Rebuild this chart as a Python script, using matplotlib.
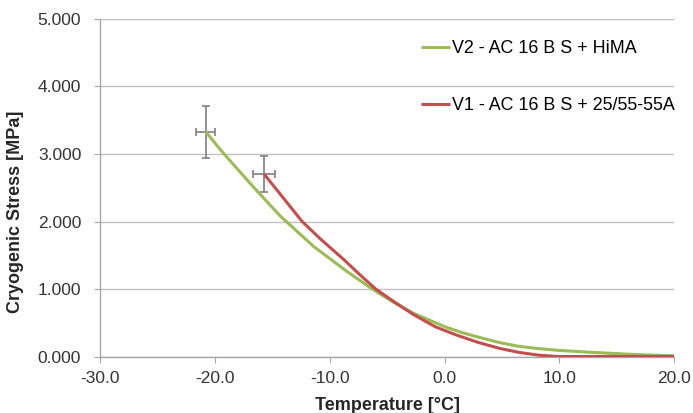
import matplotlib
matplotlib.use("Agg")
import matplotlib.pyplot as plt
from matplotlib.ticker import FormatStrFormatter

plt.rcParams['font.family'] = ['Liberation Sans', 'DejaVu Sans']

# values
green_x = [-20.8, -19.4, -16.8, -14.3, -11.4, -8.5, -6.3, -4.5, -2.7, -1.2,
           0.2, 1.6, 3.1, 4.7, 6.3, 8.0, 10.0, 13.0, 16.5, 20.0]
green_y = [3.33, 3.04, 2.54, 2.08, 1.63, 1.26, 1.00, 0.81, 0.64, 0.53,
           0.43, 0.35, 0.28, 0.21, 0.155, 0.12, 0.09, 0.06, 0.03, 0.01]

red_x = [-15.7, -14.0, -12.4, -10.8, -8.8, -7.3, -6.0, -4.3, -2.7, -0.8,
         1.0, 2.9, 4.8, 6.5, 8.2, 9.8, 12.0, 15.0, 20.0]
red_y = [2.70, 2.34, 2.00, 1.74, 1.44, 1.20, 1.00, 0.80, 0.62, 0.44,
         0.32, 0.21, 0.12, 0.06, 0.02, 0.00, 0.00, 0.00, 0.00]

# error bars on the first point of each series
green_xerr, green_yerr = 0.84, 0.385
red_xerr, red_yerr = 0.95, 0.27

labels = ["V2 - AC 16 B S + HiMA", "V1 - AC 16 B S + 25/55-55A"]
green = "#9BBB59"
red = "#C0504D"

fig = plt.figure(figsize=(6.93, 4.13), dpi=100)
ax = fig.add_axes([0.1443, 0.1368, 0.8287, 0.8172])

ax.errorbar(green_x[0], green_y[0], xerr=green_xerr, yerr=green_yerr, fmt='none',
            ecolor='#7F7F7F', elinewidth=1.2, capsize=3, capthick=1.2, zorder=2)
ax.errorbar(red_x[0], red_y[0], xerr=red_xerr, yerr=red_yerr, fmt='none',
            ecolor='#7F7F7F', elinewidth=1.2, capsize=3, capthick=1.2, zorder=2)

ax.plot(green_x, green_y, color=green, lw=2.2, label=labels[0], zorder=3,
        solid_capstyle='butt', solid_joinstyle='round')
ax.plot(red_x, red_y, color=red, lw=2.2, label=labels[1], zorder=4,
        solid_capstyle='butt', solid_joinstyle='round')

ax.set_xlim(-30, 20)
ax.set_ylim(0, 5)
ax.set_xticks([-30, -20, -10, 0, 10, 20])
ax.set_yticks([0, 1, 2, 3, 4, 5])
ax.xaxis.set_major_formatter(FormatStrFormatter('%.1f'))
ax.yaxis.set_major_formatter(FormatStrFormatter('%.3f'))

ax.grid(axis='y', color='#C0C0C0', lw=1.0)
ax.set_axisbelow(True)
for s in ['top', 'right']:
    ax.spines[s].set_visible(False)
for s in ['left', 'bottom']:
    ax.spines[s].set_color('#A6A6A6')
    ax.spines[s].set_linewidth(1.0)

ax.tick_params(axis='y', length=4.5, color='#A6A6A6', labelsize=12.5,
               labelcolor='#333333', pad=9)
ax.tick_params(axis='x', length=4.5, color='#A6A6A6', labelsize=12.5,
               labelcolor='#333333', pad=6)

ax.set_xlabel("Temperature [°C]", fontsize=13, fontweight='bold', color='#262626')
ax.set_ylabel("Cryogenic Stress [MPa]", fontsize=13, fontweight='bold', color='#262626')
ax.xaxis.set_label_coords(0.5, -0.12)
ax.yaxis.set_label_coords(-0.132, 0.428)

ax.legend(loc='upper left', bbox_to_anchor=(0.531, 0.985), frameon=False,
          fontsize=12.9, handlelength=1.6, handletextpad=0.1, labelspacing=2.25)

fig.savefig("out.png", dpi=100)
